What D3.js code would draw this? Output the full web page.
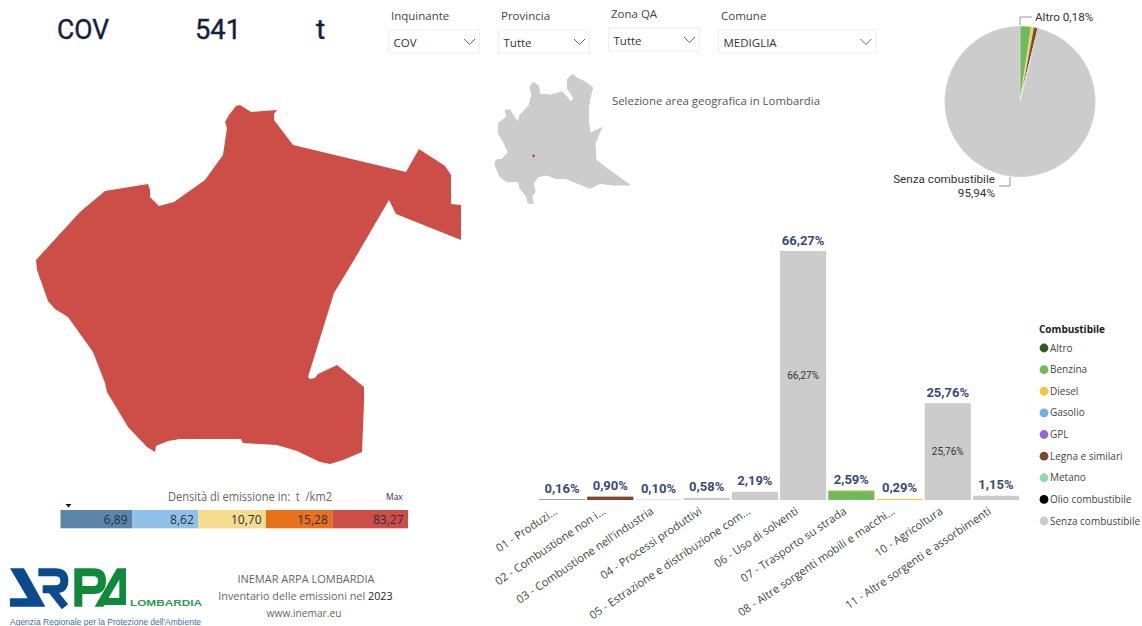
<!DOCTYPE html>
<html>
<head>
<meta charset="utf-8">
<script src="https://cdnjs.cloudflare.com/ajax/libs/d3/7.8.5/d3.min.js"></script>
<style>
  html, body { margin: 0; padding: 0; background: #fff; }
  svg { display: block; }
  text { font-family: "Open Sans", "Noto Sans", sans-serif; }
  .din { font-family: Roboto, sans-serif; }
</style>
</head>
<body>
<div id="chart"></div>
<script>
// bar chart data
const sectors = ["01 - Produzi...", "02 - Combustione non i...", "03 - Combustione nell'industria", "04 - Processi produttivi",
  "05 - Estrazione e distribuzione com...", "06 - Uso di solventi", "07 - Trasporto su strada", "08 - Altre sorgenti mobili e macchi...",
  "10 - Agricoltura", "11 - Altre sorgenti e assorbimenti"];
const fuels = ["Altro", "Benzina", "Diesel", "Gasolio", "GPL", "Legna e similari", "Metano", "Olio combustibile", "Senza combustibile"];
const fuelColors = ["#375623", "#70ba5c", "#f2c63f", "#6cb0e8", "#9068d8", "#7a4a2a", "#8fd8b0", "#000000", "#cccccc"];

const altro     = [0.14, 0,    0.02, 0, 0, 0, 0.02, 0, 0, 0];
const benzina   = [0, 0, 0, 0, 0, 0, 2.35, 0, 0, 0];
const diesel    = [0, 0, 0, 0, 0, 0, 0.22, 0.29, 0, 0];
const legna     = [0, 0.90, 0, 0, 0, 0, 0, 0, 0, 0];
const senza     = [0.02, 0, 0.08, 0.58, 2.19, 66.27, 0, 0, 25.76, 1.15];
const barTotals = [0.16, 0.90, 0.10, 0.58, 2.19, 66.27, 2.59, 0.29, 25.76, 1.15];

// pie slices clockwise from 12 o'clock
const pieNames  = ["Benzina", "Diesel", "Legna e similari", "Metano", "GPL", "Gasolio", "Altro", "Senza combustibile"];
const pieValues = [2.42, 0.50, 0.90, 0.03, 0.02, 0.01, 0.18, 95.94];

// density classes
const densityLabels = [6.89, 8.62, 10.70, 15.28, 83.27];
const densityColors = ["#5a84a8", "#8fc1e8", "#f3dc8e", "#e8721c", "#cd4e47"];

// slicers
const slicerTitles = ["Inquinante", "Provincia", "Zona QA", "Comune"];
const slicerValues = ["COV", "Tutte", "Tutte", "MEDIGLIA"];

// comune outline, map units
const comuneOutline = [[0,155],[44,107],[69,86],[112,79],[114,85],[114,92],[123,101],[138,97],[169,75],[187,50],[191,23],[189,17],[193,10],[200,1],[204,0],[215,7],[241,5],[238,9],[238,15],[257,40],[370,67],[383,44],[409,61],[415,70],[415,99],[425,100],[425,135],[360,109],[353,95],[318,155],[298,188],[272,272],[274,274],[279,273],[282,269],[301,260],[328,282],[328,298],[326,347],[307,355],[294,359],[284,357],[261,346],[241,340],[207,338],[205,334],[144,334],[132,336],[120,341],[119,347],[111,342],[92,322],[71,287],[69,278],[57,247],[32,212],[19,204],[12,196],[1,165]];

// regione outline, map units
const lombardia = [[120,65],[130,52],[145,62],[150,88],[185,90],[215,80],[235,100],[240,112],[252,100],[232,70],[232,42],[248,28],[262,40],[285,50],[308,68],[300,100],[295,130],[296,170],[300,205],[335,188],[315,235],[318,285],[325,290],[350,310],[385,335],[420,360],[370,360],[330,355],[300,370],[250,350],[225,340],[195,340],[170,330],[145,335],[130,355],[135,380],[125,395],[130,415],[115,415],[110,395],[90,370],[85,350],[50,350],[30,335],[15,300],[18,285],[35,283],[55,262],[40,230],[25,205],[25,175],[50,155],[45,135],[60,135],[75,160],[85,170],[90,150],[118,120],[125,90]];
const medigliaPoint = [131, 272];

const width = 1142, height = 626;
const it = d3.formatLocale({decimal: ",", thousands: ".", grouping: [3], currency: ["", "€"]});
const pct = it.format(".2f");

const svg = d3.select("#chart").append("svg").attr("width", width).attr("height", height);
svg.append("rect").attr("width", width).attr("height", height).attr("fill", "#fff");

// big numbers top left
const headline = svg.append("g").attr("fill", "#14213d").attr("stroke", "#14213d").attr("stroke-width", 0.4).attr("font-size", 28);
headline.append("text").attr("class", "din").attr("x", 57).attr("y", 39).attr("textLength", 52).attr("lengthAdjust", "spacingAndGlyphs").text("COV");
headline.append("text").attr("class", "din").attr("x", 195).attr("y", 39).attr("textLength", 46).attr("lengthAdjust", "spacingAndGlyphs").text("541");
headline.append("text").attr("class", "din").attr("x", 316).attr("y", 39).text("t");

// slicers
const slicerX = [388.5, 498.5, 608.5, 718.5];
const slicerY = [30, 30, 28, 30];
const slicerW = [91, 91, 91, 157.5];
slicerTitles.forEach(function(title, i){
  let g = svg.append("g").attr("transform", `translate(${slicerX[i]}, ${slicerY[i]})`);
  g.append("text").attr("x", 2.5).attr("y", -10).attr("font-size", 11.5).attr("fill", "#444").text(title);
  g.append("rect").attr("width", slicerW[i]).attr("height", 23).attr("fill", "#fff").attr("stroke", "#eeeeee");
  g.append("text").attr("x", 5).attr("y", 17).attr("font-size", 11.5).attr("fill", "#333").text(slicerValues[i]);
  let cx = slicerW[i] - 10;
  g.append("path").attr("d", `M${cx - 5.5},9 L${cx},14.5 L${cx + 5.5},9`).attr("fill", "none").attr("stroke", "#555").attr("stroke-width", 0.9);
});

// comune map
const comuneFeature = {type: "Polygon", coordinates: [comuneOutline.concat([comuneOutline[0]])]};
const comuneProjection = d3.geoIdentity().translate([36, 105]);
svg.append("path").attr("d", d3.geoPath(comuneProjection)(comuneFeature)).attr("fill", "#cd4e47");

// regione locator
const regionFeature = {type: "Polygon", coordinates: [lombardia.concat([lombardia[0]])]};
const regionProjection = d3.geoIdentity().scale(1 / 3).translate([490, 65]);
svg.append("path").attr("d", d3.geoPath(regionProjection)(regionFeature))
  .attr("fill", "#cccccc").attr("stroke", "#cccccc").attr("stroke-width", 1).attr("stroke-linejoin", "round");
const dot = regionProjection(medigliaPoint);
svg.append("circle").attr("cx", dot[0]).attr("cy", dot[1]).attr("r", 1.5).attr("fill", "#e8483c");
svg.append("text").attr("x", 612).attr("y", 105).attr("font-size", 11.5).attr("fill", "#555")
  .attr("textLength", 208).attr("lengthAdjust", "spacingAndGlyphs").text("Selezione area geografica in Lombardia");

// pie
const fuelColor = d3.scaleOrdinal().domain(fuels).range(fuelColors);
const pieCenter = [1020, 101.5];
const pieRadius = 75.5;
const pieData = d3.pie().sort(null).value(function(d){ return d.value; })(pieNames.map(function(n, i){ return {name: n, value: pieValues[i]}; }));
const arc = d3.arc().innerRadius(0).outerRadius(pieRadius);
svg.append("g").attr("transform", `translate(${pieCenter})`)
  .selectAll("path").data(pieData).join("path")
  .attr("d", arc).attr("fill", function(d){ return fuelColor(d.data.name); })
  .attr("stroke", "#fff").attr("stroke-width", 0.3);

svg.append("path").attr("d", "M1020,25 V17 H1032 M1010,177 V186 H999").attr("fill", "none").attr("stroke", "#777").attr("stroke-width", 0.8);
const pieLabels = svg.append("g").attr("font-size", 11.7).attr("fill", "#333");
pieLabels.append("text").attr("class", "din").attr("x", 1035).attr("y", 20.5).text("Altro " + pct(pieValues[6]) + "%");
pieLabels.append("text").attr("class", "din").attr("x", 995).attr("y", 183).attr("text-anchor", "end").text(pieNames[7]);
pieLabels.append("text").attr("class", "din").attr("x", 995).attr("y", 196.5).attr("text-anchor", "end").text(pct(pieValues[7]) + "%");

// stacked bars
const baseline = 500;
const x = d3.scaleBand().domain(sectors).range([538, 1020]).paddingInner(0.042).paddingOuter(0.02);
const y = d3.scaleLinear().domain([0, 66.27]).range([baseline, 251]);

const stackRows = sectors.map(function(s, i){
  return {sector: s, "Altro": altro[i], "Benzina": benzina[i], "Diesel": diesel[i], "Gasolio": 0, "GPL": 0,
    "Legna e similari": legna[i], "Metano": 0, "Olio combustibile": 0, "Senza combustibile": senza[i]};
});
const series = d3.stack().keys(fuels)(stackRows);

svg.append("g").selectAll("g").data(series).join("g")
  .attr("fill", function(d){ return fuelColor(d.key); })
  .selectAll("rect").data(function(d){ return d; }).join("rect")
  .attr("x", function(d){ return x(d.data.sector); })
  .attr("y", function(d){ return y(d[1]); })
  .attr("width", x.bandwidth())
  .attr("height", function(d){ return y(d[0]) - y(d[1]); });

// totals above the bars
svg.append("g").selectAll("text").data(barTotals).join("text")
  .attr("class", "din")
  .attr("x", function(d, i){ return x(sectors[i]) + x.bandwidth() / 2; })
  .attr("y", function(d){ return y(d) - 6.5; })
  .attr("text-anchor", "middle").attr("font-size", 13).attr("font-weight", 700).attr("fill", "#3b4a78")
  .text(function(d){ return pct(d) + "%"; });

// inner labels only on the two big bars
svg.append("g").selectAll("text").data(senza.map(function(v, i){ return {v: v, s: sectors[i]}; }).filter(function(d){ return d.v > 20; })).join("text")
  .attr("class", "din")
  .attr("x", function(d){ return x(d.s) + x.bandwidth() / 2; })
  .attr("y", function(d){ return y(d.v / 2) + 3.5; })
  .attr("text-anchor", "middle").attr("font-size", 10).attr("fill", "#333")
  .text(function(d){ return pct(d.v) + "%"; });

// sector axis
const xAxis = d3.axisBottom(x).tickSize(0);
const xAxisG = svg.append("g").attr("transform", `translate(0, ${baseline})`).call(xAxis);
xAxisG.attr("font-family", null);
xAxisG.select(".domain").remove();
xAxisG.selectAll("text")
  .attr("font-size", 11.2).attr("fill", "#444")
  .attr("text-anchor", "end")
  .attr("dx", 0).attr("dy", 0).attr("y", 0)
  .attr("transform", "translate(-4, 13) rotate(-34)");

// fuel legend
const legend = svg.append("g");
legend.append("text").attr("x", 1039).attr("y", 333).attr("font-size", 10).attr("font-weight", 700).attr("fill", "#222").text("Combustibile");
const legendY = d3.scalePoint().domain(fuels).range([348, 521]);
const items = legend.selectAll("g").data(fuels).join("g").attr("transform", function(d){ return `translate(0, ${legendY(d)})`; });
items.append("circle").attr("cx", 1044).attr("r", 4.4).attr("fill", function(d){ return fuelColor(d); });
items.append("text").attr("x", 1050).attr("y", 3.5).attr("font-size", 10).attr("fill", "#444").text(function(d){ return d; });

// density legend
const classEdges = [60.5, 132, 198.3, 266, 332.3, 408];
const classLeft = d3.scaleOrdinal().domain(densityLabels).range(classEdges.slice(0, 5));
const classRight = d3.scaleOrdinal().domain(densityLabels).range(classEdges.slice(1));
const classes = svg.append("g").selectAll("g").data(densityLabels).join("g");
classes.append("rect")
  .attr("x", function(d){ return classLeft(d); })
  .attr("y", 510).attr("height", 18.3)
  .attr("width", function(d){ return classRight(d) - classLeft(d); })
  .attr("fill", function(d, i){ return densityColors[i]; });
classes.append("text")
  .attr("x", function(d){ return classRight(d) - 4.5; })
  .attr("y", 524).attr("text-anchor", "end").attr("font-size", 12).attr("fill", "#263040")
  .text(function(d){ return it.format(".2f")(d); });
svg.append("text").attr("x", 168).attr("y", 501).attr("font-size", 12).attr("fill", "#666")
  .attr("textLength", 164).attr("lengthAdjust", "spacingAndGlyphs").attr("xml:space", "preserve").text("Densità di emissione in:  t  /km2");
svg.append("text").attr("x", 386).attr("y", 500).attr("font-size", 8.5).attr("fill", "#334").text("Max");
svg.append("path").attr("d", "M65.5,504 H71.5 L68.5,507.5 Z").attr("fill", "#111");

// ARPA logo, drawn at 3x and scaled down
const logo = svg.append("g").attr("transform", "translate(0, 560) scale(0.3333)");
logo.append("path").attr("fill", "#0c4a8e").attr("d", "M30,25 H72 L136,140 H98 Z M30,115 H86 L100,140 H30 Z");
logo.append("path").attr("fill", "none").attr("stroke", "#0c4a8e").attr("stroke-width", 24)
  .attr("d", "M115,37 H165 Q193,37 193,62 Q193,88 165,88 H128 M155,90 L195,140");
logo.append("path").attr("fill", "none").attr("stroke", "#0f8a3c").attr("stroke-width", 24)
  .attr("d", "M235,25 V140 M235,37 H280 Q306,37 306,62 Q306,90 280,90 H240");
logo.append("path").attr("fill", "#0f8a3c").attr("d", "M351,25 H378 L310,140 H284 Z M358,25 H378 V135 H358 Z M320,114 H378 V135 H312 Z");
svg.append("text").attr("x", 130).attr("y", 605.5).attr("font-weight", 700).attr("font-size", 9.5)
  .attr("fill", "#2f9a50").attr("textLength", 72).attr("lengthAdjust", "spacingAndGlyphs").style("font-family", "Liberation Sans").text("LOMBARDIA");
svg.append("text").attr("x", 10).attr("y", 625).attr("font-size", 9.5).style("font-family", "Liberation Sans")
  .attr("fill", "#3f6f9f").attr("textLength", 191).attr("lengthAdjust", "spacingAndGlyphs").text("Agenzia Regionale per la Protezione dell'Ambiente");

// credits
const credits = svg.append("g").attr("text-anchor", "middle").attr("font-size", 11).attr("fill", "#666");
credits.append("text").attr("x", 306).attr("y", 583).text("INEMAR ARPA LOMBARDIA");
const line2 = credits.append("text").attr("x", 305.5).attr("y", 600).attr("font-size", 10.8);
line2.append("tspan").text("Inventario delle emissioni nel ");
line2.append("tspan").attr("fill", "#222").text("2023");
credits.append("text").attr("x", 304).attr("y", 617).attr("font-size", 10.2).text("www.inemar.eu");
</script>
</body>
</html>
